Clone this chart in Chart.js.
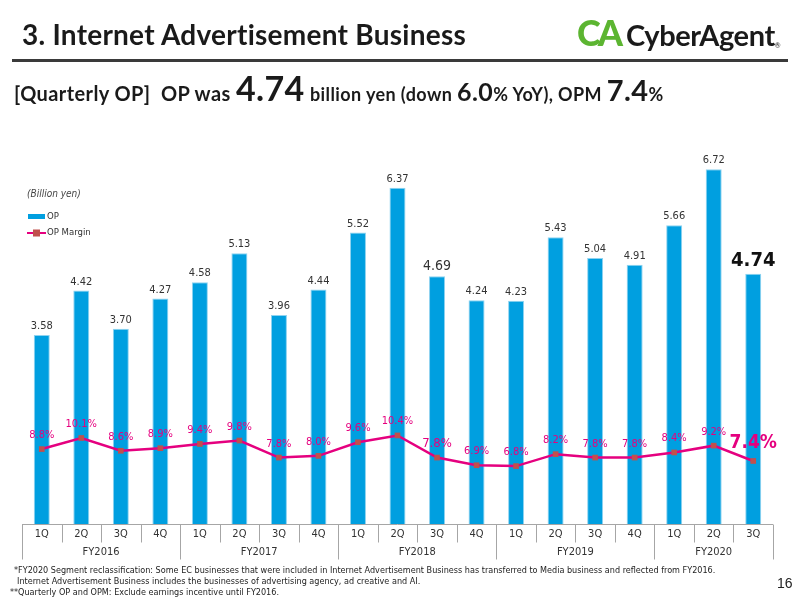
<!DOCTYPE html>
<html>
<head>
<meta charset="utf-8">
<script src="https://cdn.jsdelivr.net/npm/chart.js@4.4.0/dist/chart.umd.min.js"></script>
<style>
  html, body { margin:0; padding:0; background:#fff; }
  #page { position:relative; width:800px; height:600px; overflow:hidden; font-family:'Lato','Noto Sans',sans-serif; color:#1a1a1a; }
  #c { position:absolute; left:0; top:0; }
  .abs { position:absolute; white-space:nowrap; }
  #title { left:22px; top:17px; font-size:28px; font-weight:700; letter-spacing:0.25px; }
  #rule { left:12px; top:59px; width:776px; height:3px; background:#3a3a3a; }
  #sub { left:14px; top:67px; font-size:20px; font-weight:700; letter-spacing:0.4px; }
  #sub .big { font-size:34px; }
  #sub .mid { font-size:25px; }
  #sub .sm { font-size:18px; }
  #logo { left:577px; top:10px; }
  #logo .ca { font-size:36px; font-weight:900; color:#5cb531; letter-spacing:-3px; font-family:'Lato',sans-serif; }
  #logo .name { font-size:29px; font-weight:700; color:#1a1a1a; margin-left:6px; letter-spacing:-0.4px; }
  #logo .r { font-size:7px; vertical-align:-2px; }
  .note { left:14px; font-size:9px; font-family:'Liberation Sans Narrow','DejaVu Sans Condensed',sans-serif; color:#222; }
  #pg { left:777px; top:575px; font-size:14px; font-family:'Liberation Sans Narrow',sans-serif; color:#222; }
</style>
</head>
<body>
<div id="page">
  <canvas id="c" width="800" height="600"></canvas>
  <div class="abs" id="title">3. Internet Advertisement Business</div>
  <div class="abs" id="rule"></div>
  <div class="abs" id="logo"><span class="ca">CA</span><span class="name">CyberAgent</span><span class="r">®</span></div>
  <div class="abs" id="sub">[Quarterly OP]&nbsp; OP was <span class="big">4.74</span> <span class="sm">billion yen (down </span><span class="mid">6.0</span><span class="sm">% YoY), OPM </span><span class="big" style="font-size:29px">7.4</span><span class="sm">%</span></div>
  <div class="abs note" style="top:565px">*FY2020 Segment reclassification: Some EC businesses that were included in Internet Advertisement Business has transferred to Media business and reflected from FY2016.</div>
  <div class="abs note" style="top:576px;left:17px">Internet Advertisement Business includes the businesses of advertising agency, ad creative and AI.</div>
  <div class="abs note" style="top:587px;left:10px">**Quarterly OP and OPM: Exclude earnings incentive until FY2016.</div>
  <div class="abs" id="pg">16</div>
</div>
<script>
// quarters and fiscal years
const quarters = ['1Q','2Q','3Q','4Q','1Q','2Q','3Q','4Q','1Q','2Q','3Q','4Q','1Q','2Q','3Q','4Q','1Q','2Q','3Q'];
const fiscalYears = ['FY2016','FY2017','FY2018','FY2019','FY2020'];
const quartersInYear = [4,4,4,4,3];
// OP (billion yen) and OP margin (%)
const opValues = [3.58,4.42,3.70,4.27,4.58,5.13,3.96,4.44,5.52,6.37,4.69,4.24,4.23,5.43,5.04,4.91,5.66,6.72,4.74];
const marginValues = [8.8,10.1,8.6,8.9,9.4,9.8,7.8,8.0,9.6,10.4,7.8,6.9,6.8,8.2,7.8,7.8,8.4,9.2,7.4];

const barColor = '#009fe0';
const lineColor = '#e5007f';
const markerColor = '#c0504d';
const narrow = "'Liberation Sans Narrow','DejaVu Sans Condensed',sans-serif";

const drawExtras = {
  id: 'extras',
  afterDatasetsDraw(chart) {
    const ctx = chart.ctx;
    const bars = chart.getDatasetMeta(0).data;
    const pts = chart.getDatasetMeta(1).data;
    const last = opValues.length - 1;
    ctx.save();
    ctx.textAlign = 'center';
    ctx.textBaseline = 'alphabetic';
    // bar value labels
    bars.forEach((b, i) => {
      let font = '11px ' + narrow, off = 6;
      if (i === last) { font = 'bold 20px ' + narrow; off = 8; }
      else if (i === 10) { font = '14px ' + narrow; off = 6; }
      ctx.font = font;
      ctx.fillStyle = i === last ? '#111' : '#333';
      ctx.fillText(opValues[i].toFixed(2), b.x, b.y - off);
    });
    // margin labels
    pts.forEach((p, i) => {
      let font = '11px ' + narrow, off = 11;
      if (i === last) { font = 'bold 19px ' + narrow; off = 13; }
      else if (i === 10) { font = '13px ' + narrow; off = 11; }
      ctx.font = font;
      ctx.fillStyle = lineColor;
      ctx.fillText(marginValues[i].toFixed(1) + '%', p.x, p.y - off);
    });
    ctx.restore();
  },
  afterDraw(chart) {
    const ctx = chart.ctx;
    const x = chart.scales.x;
    const area = chart.chartArea;
    const cell = x.width / quarters.length;
    const bottom = Math.round(area.bottom) + 0.5;
    ctx.save();
    ctx.strokeStyle = '#a6a6a6';
    ctx.lineWidth = 1;
    ctx.beginPath();
    ctx.moveTo(area.left, bottom);
    ctx.lineTo(area.right, bottom);
    // boundaries
    const yearEdges = [0];
    quartersInYear.forEach(n => yearEdges.push(yearEdges[yearEdges.length - 1] + n));
    for (let k = 0; k <= quarters.length; k++) {
      const px = Math.round(area.left + k * cell) + 0.5;
      const len = yearEdges.includes(k) ? 35 : 18;
      ctx.moveTo(px, bottom);
      ctx.lineTo(px, bottom + len);
    }
    ctx.stroke();
    ctx.fillStyle = '#333';
    ctx.textAlign = 'center';
    ctx.textBaseline = 'middle';
    ctx.font = '11px ' + narrow;
    quarters.forEach((q, i) => ctx.fillText(q, x.getPixelForValue(i), bottom + 10));
    fiscalYears.forEach((fy, j) => {
      const mid = area.left + (yearEdges[j] + yearEdges[j + 1]) / 2 * cell;
      ctx.fillText(fy, mid, bottom + 28);
    });
    // unit and legend
    ctx.textAlign = 'left';
    ctx.fillStyle = '#444';
    ctx.font = 'italic 10px ' + narrow;
    ctx.fillText('(Billion yen)', 27, 194);
    ctx.fillStyle = barColor;
    ctx.fillRect(28, 214, 17, 5);
    ctx.fillStyle = '#333';
    ctx.font = '9.5px ' + narrow;
    ctx.fillText('OP', 47, 217);
    ctx.strokeStyle = lineColor;
    ctx.lineWidth = 2;
    ctx.beginPath();
    ctx.moveTo(27, 233); ctx.lineTo(46, 233);
    ctx.stroke();
    ctx.fillStyle = markerColor;
    ctx.fillRect(33, 229.5, 7, 7);
    ctx.fillStyle = '#333';
    ctx.fillText('OP Margin', 47, 233);
    ctx.restore();
  }
};

new Chart(document.getElementById('c'), {
  type: 'bar',
  data: {
    labels: quarters,
    datasets: [{
      type: 'bar',
      label: 'OP',
      data: opValues,
      backgroundColor: barColor,
      borderColor: '#8fd3f0',
      borderWidth: {top:1, left:1, right:1, bottom:0},
      categoryPercentage: 1,
      barPercentage: 0.405,
      yAxisID: 'y',
      order: 1
    }, {
      type: 'line',
      label: 'OP Margin',
      data: marginValues,
      borderColor: lineColor,
      borderWidth: 2.5,
      pointStyle: 'rect',
      pointRadius: 4,
      pointBackgroundColor: markerColor,
      pointBorderColor: markerColor,
      pointBorderWidth: 0,
      tension: 0,
      yAxisID: 'y1',
      order: 0
    }]
  },
  options: {
    responsive: false,
    animation: false,
    devicePixelRatio: 1,
    layout: { padding: { left: 22, right: 27, top: 128, bottom: 76 } },
    plugins: { legend: { display: false }, tooltip: { enabled: false } },
    scales: {
      x: { display: false, offset: true },
      y: { display: false, min: 0, max: 7.5 },
      y1: { display: false, min: 0, max: 46.5, position: 'right' }
    }
  },
  plugins: [drawExtras]
});
</script>
</body>
</html>
